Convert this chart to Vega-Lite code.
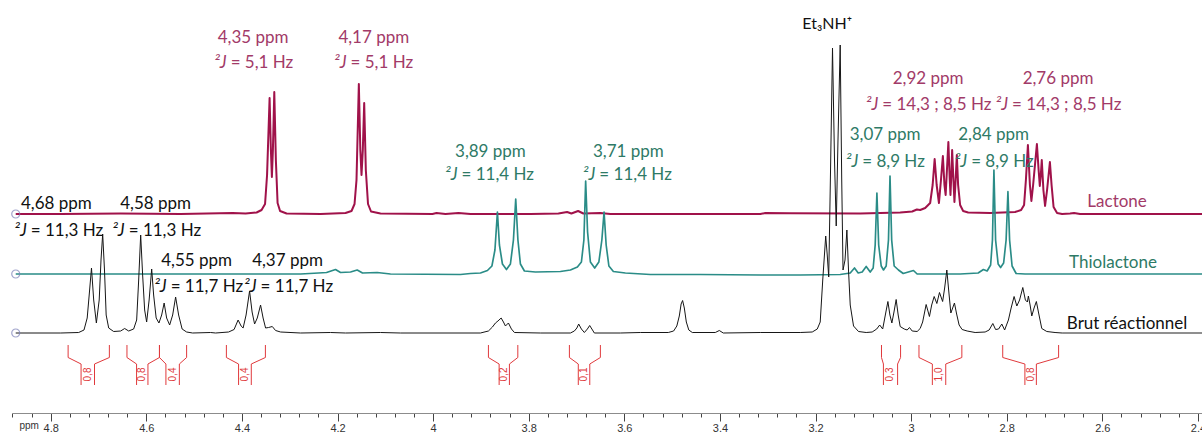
{
"$schema": "https://vega.github.io/schema/vega-lite/v6.json",
"width": 1190, "height": 413,
"autosize": {"type": "none"},
"padding": {"left": 12, "top": 0, "right": 0, "bottom": 22},
"background": "white",
"config": {"view": {"stroke": null}},
"datasets": {
"spectra": [
{"s":"Lactone","x":4.8732,"y":199},{"s":"Lactone","x":4.7791,"y":199},{"s":"Lactone","x":4.6537,"y":199.5},{"s":"Lactone","x":4.5282,"y":199},{"s":"Lactone","x":4.4195,"y":200},{"s":"Lactone","x":4.3923,"y":199.5},{"s":"Lactone","x":4.3693,"y":200.5},{"s":"Lactone","x":4.3589,"y":203},{"s":"Lactone","x":4.3516,"y":209},{"s":"Lactone","x":4.3474,"y":238},{"s":"Lactone","x":4.3421,"y":315},{"s":"Lactone","x":4.3394,"y":263},{"s":"Lactone","x":4.3373,"y":236},{"s":"Lactone","x":4.3352,"y":263},{"s":"Lactone","x":4.3323,"y":321},{"s":"Lactone","x":4.3290,"y":253},{"s":"Lactone","x":4.3254,"y":210},{"s":"Lactone","x":4.3202,"y":202},{"s":"Lactone","x":4.3066,"y":199.5},{"s":"Lactone","x":4.2355,"y":199},{"s":"Lactone","x":4.1833,"y":200},{"s":"Lactone","x":4.1707,"y":202},{"s":"Lactone","x":4.1644,"y":209},{"s":"Lactone","x":4.1603,"y":233},{"s":"Lactone","x":4.1554,"y":329},{"s":"Lactone","x":4.1523,"y":263},{"s":"Lactone","x":4.1498,"y":238},{"s":"Lactone","x":4.1471,"y":263},{"s":"Lactone","x":4.1442,"y":310},{"s":"Lactone","x":4.1408,"y":243},{"s":"Lactone","x":4.1362,"y":209},{"s":"Lactone","x":4.1299,"y":201.5},{"s":"Lactone","x":4.1101,"y":199.5},{"s":"Lactone","x":4.0014,"y":199},{"s":"Lactone","x":3.9930,"y":200},{"s":"Lactone","x":3.9742,"y":199},{"s":"Lactone","x":3.9470,"y":200},{"s":"Lactone","x":3.9219,"y":199},{"s":"Lactone","x":3.7965,"y":199},{"s":"Lactone","x":3.7379,"y":199.5},{"s":"Lactone","x":3.7197,"y":201},{"s":"Lactone","x":3.7108,"y":199.5},{"s":"Lactone","x":3.6967,"y":202},{"s":"Lactone","x":3.6857,"y":199.5},{"s":"Lactone","x":3.6501,"y":200},{"s":"Lactone","x":3.6292,"y":199},{"s":"Lactone","x":3.3156,"y":199},{"s":"Lactone","x":3.3052,"y":200},{"s":"Lactone","x":3.2529,"y":199.7},{"s":"Lactone","x":3.1065,"y":199.5},{"s":"Lactone","x":3.0229,"y":200.5},{"s":"Lactone","x":2.9978,"y":201.5},{"s":"Lactone","x":2.9880,"y":203.5},{"s":"Lactone","x":2.9811,"y":203},{"s":"Lactone","x":2.9706,"y":205},{"s":"Lactone","x":2.9602,"y":210},{"s":"Lactone","x":2.9550,"y":228},{"s":"Lactone","x":2.9508,"y":254},{"s":"Lactone","x":2.9466,"y":228},{"s":"Lactone","x":2.9418,"y":210},{"s":"Lactone","x":2.9376,"y":233},{"s":"Lactone","x":2.9336,"y":257},{"s":"Lactone","x":2.9303,"y":228},{"s":"Lactone","x":2.9278,"y":218},{"s":"Lactone","x":2.9251,"y":243},{"s":"Lactone","x":2.9221,"y":271},{"s":"Lactone","x":2.9192,"y":233},{"s":"Lactone","x":2.9177,"y":218},{"s":"Lactone","x":2.9159,"y":238},{"s":"Lactone","x":2.9142,"y":263},{"s":"Lactone","x":2.9115,"y":233},{"s":"Lactone","x":2.9094,"y":211},{"s":"Lactone","x":2.9069,"y":233},{"s":"Lactone","x":2.9044,"y":258},{"s":"Lactone","x":2.9017,"y":228},{"s":"Lactone","x":2.8975,"y":208},{"s":"Lactone","x":2.8912,"y":202},{"s":"Lactone","x":2.8807,"y":200.5},{"s":"Lactone","x":2.8348,"y":200},{"s":"Lactone","x":2.7825,"y":201},{"s":"Lactone","x":2.7699,"y":203},{"s":"Lactone","x":2.7637,"y":208},{"s":"Lactone","x":2.7599,"y":233},{"s":"Lactone","x":2.7557,"y":268},{"s":"Lactone","x":2.7515,"y":228},{"s":"Lactone","x":2.7484,"y":212},{"s":"Lactone","x":2.7448,"y":228},{"s":"Lactone","x":2.7369,"y":269},{"s":"Lactone","x":2.7333,"y":243},{"s":"Lactone","x":2.7308,"y":227},{"s":"Lactone","x":2.7287,"y":238},{"s":"Lactone","x":2.7267,"y":253},{"s":"Lactone","x":2.7233,"y":223},{"s":"Lactone","x":2.7198,"y":207},{"s":"Lactone","x":2.7156,"y":223},{"s":"Lactone","x":2.7097,"y":251},{"s":"Lactone","x":2.7062,"y":228},{"s":"Lactone","x":2.7020,"y":206},{"s":"Lactone","x":2.6947,"y":200},{"s":"Lactone","x":2.6842,"y":199},{"s":"Lactone","x":2.6675,"y":199.5},{"s":"Lactone","x":2.6591,"y":200},{"s":"Lactone","x":2.6466,"y":199},{"s":"Lactone","x":2.3915,"y":199},
{"s":"Thiolactone","x":4.8732,"y":139},{"s":"Thiolactone","x":4.6537,"y":139},{"s":"Thiolactone","x":4.4864,"y":139},{"s":"Thiolactone","x":4.2773,"y":139},{"s":"Thiolactone","x":4.2397,"y":140},{"s":"Thiolactone","x":4.2230,"y":140.5},{"s":"Thiolactone","x":4.2042,"y":143.5},{"s":"Thiolactone","x":4.1937,"y":140.5},{"s":"Thiolactone","x":4.1728,"y":141},{"s":"Thiolactone","x":4.1588,"y":143},{"s":"Thiolactone","x":4.1477,"y":140},{"s":"Thiolactone","x":4.1170,"y":140.5},{"s":"Thiolactone","x":4.0892,"y":139},{"s":"Thiolactone","x":3.9428,"y":138.5},{"s":"Thiolactone","x":3.9219,"y":139.5},{"s":"Thiolactone","x":3.9010,"y":140},{"s":"Thiolactone","x":3.8864,"y":142.5},{"s":"Thiolactone","x":3.8770,"y":147},{"s":"Thiolactone","x":3.8707,"y":163},{"s":"Thiolactone","x":3.8655,"y":201},{"s":"Thiolactone","x":3.8613,"y":168},{"s":"Thiolactone","x":3.8550,"y":149},{"s":"Thiolactone","x":3.8466,"y":143.5},{"s":"Thiolactone","x":3.8383,"y":149},{"s":"Thiolactone","x":3.8320,"y":173},{"s":"Thiolactone","x":3.8272,"y":214},{"s":"Thiolactone","x":3.8226,"y":173},{"s":"Thiolactone","x":3.8174,"y":149},{"s":"Thiolactone","x":3.8090,"y":142},{"s":"Thiolactone","x":3.7860,"y":141},{"s":"Thiolactone","x":3.7338,"y":141.5},{"s":"Thiolactone","x":3.7128,"y":143},{"s":"Thiolactone","x":3.6982,"y":146},{"s":"Thiolactone","x":3.6898,"y":151},{"s":"Thiolactone","x":3.6846,"y":173},{"s":"Thiolactone","x":3.6809,"y":232},{"s":"Thiolactone","x":3.6769,"y":181},{"s":"Thiolactone","x":3.6710,"y":151},{"s":"Thiolactone","x":3.6620,"y":145},{"s":"Thiolactone","x":3.6533,"y":151},{"s":"Thiolactone","x":3.6470,"y":173},{"s":"Thiolactone","x":3.6424,"y":201},{"s":"Thiolactone","x":3.6380,"y":168},{"s":"Thiolactone","x":3.6323,"y":147},{"s":"Thiolactone","x":3.6229,"y":141.5},{"s":"Thiolactone","x":3.5978,"y":140},{"s":"Thiolactone","x":3.5456,"y":138.5},{"s":"Thiolactone","x":3.4411,"y":138.5},{"s":"Thiolactone","x":3.3156,"y":138},{"s":"Thiolactone","x":3.2320,"y":138},{"s":"Thiolactone","x":3.1484,"y":138.5},{"s":"Thiolactone","x":3.1274,"y":140},{"s":"Thiolactone","x":3.1185,"y":145},{"s":"Thiolactone","x":3.1107,"y":140},{"s":"Thiolactone","x":3.1024,"y":141},{"s":"Thiolactone","x":3.0940,"y":146.5},{"s":"Thiolactone","x":3.0856,"y":141},{"s":"Thiolactone","x":3.0794,"y":145},{"s":"Thiolactone","x":3.0752,"y":168},{"s":"Thiolactone","x":3.0716,"y":220},{"s":"Thiolactone","x":3.0679,"y":168},{"s":"Thiolactone","x":3.0626,"y":147},{"s":"Thiolactone","x":3.0578,"y":143},{"s":"Thiolactone","x":3.0522,"y":147},{"s":"Thiolactone","x":3.0474,"y":173},{"s":"Thiolactone","x":3.0442,"y":237},{"s":"Thiolactone","x":3.0407,"y":173},{"s":"Thiolactone","x":3.0355,"y":147},{"s":"Thiolactone","x":3.0265,"y":143},{"s":"Thiolactone","x":3.0166,"y":139.5},{"s":"Thiolactone","x":2.9951,"y":142.5},{"s":"Thiolactone","x":2.9874,"y":139},{"s":"Thiolactone","x":2.9602,"y":139},{"s":"Thiolactone","x":2.8975,"y":139},{"s":"Thiolactone","x":2.8598,"y":140},{"s":"Thiolactone","x":2.8488,"y":143.5},{"s":"Thiolactone","x":2.8410,"y":142},{"s":"Thiolactone","x":2.8337,"y":148},{"s":"Thiolactone","x":2.8299,"y":173},{"s":"Thiolactone","x":2.8268,"y":243},{"s":"Thiolactone","x":2.8233,"y":173},{"s":"Thiolactone","x":2.8180,"y":149},{"s":"Thiolactone","x":2.8128,"y":145.5},{"s":"Thiolactone","x":2.8065,"y":150},{"s":"Thiolactone","x":2.8013,"y":173},{"s":"Thiolactone","x":2.7975,"y":221.3},{"s":"Thiolactone","x":2.7940,"y":173},{"s":"Thiolactone","x":2.7888,"y":147},{"s":"Thiolactone","x":2.7804,"y":139.5},{"s":"Thiolactone","x":2.7616,"y":139},{"s":"Thiolactone","x":2.3915,"y":139},
{"s":"Brut","x":4.8732,"y":80},{"s":"Brut","x":4.7791,"y":80},{"s":"Brut","x":4.7415,"y":80.5},{"s":"Brut","x":4.7304,"y":83},{"s":"Brut","x":4.7237,"y":95},{"s":"Brut","x":4.7195,"y":118},{"s":"Brut","x":4.7147,"y":145},{"s":"Brut","x":4.7101,"y":113},{"s":"Brut","x":4.7045,"y":90},{"s":"Brut","x":4.6986,"y":113},{"s":"Brut","x":4.6948,"y":153},{"s":"Brut","x":4.6913,"y":179},{"s":"Brut","x":4.6875,"y":143},{"s":"Brut","x":4.6840,"y":98},{"s":"Brut","x":4.6787,"y":85},{"s":"Brut","x":4.6683,"y":81.5},{"s":"Brut","x":4.6537,"y":82},{"s":"Brut","x":4.6453,"y":84.5},{"s":"Brut","x":4.6369,"y":82},{"s":"Brut","x":4.6265,"y":84},{"s":"Brut","x":4.6202,"y":93},{"s":"Brut","x":4.6160,"y":133},{"s":"Brut","x":4.6118,"y":178},{"s":"Brut","x":4.6077,"y":138},{"s":"Brut","x":4.6035,"y":103},{"s":"Brut","x":4.5993,"y":91},{"s":"Brut","x":4.5941,"y":113},{"s":"Brut","x":4.5888,"y":144},{"s":"Brut","x":4.5847,"y":118},{"s":"Brut","x":4.5794,"y":95},{"s":"Brut","x":4.5736,"y":90},{"s":"Brut","x":4.5679,"y":98},{"s":"Brut","x":4.5627,"y":110},{"s":"Brut","x":4.5575,"y":95},{"s":"Brut","x":4.5512,"y":88},{"s":"Brut","x":4.5449,"y":98},{"s":"Brut","x":4.5387,"y":116},{"s":"Brut","x":4.5324,"y":98},{"s":"Brut","x":4.5251,"y":84},{"s":"Brut","x":4.5157,"y":81},{"s":"Brut","x":4.5031,"y":80},{"s":"Brut","x":4.4655,"y":80.5},{"s":"Brut","x":4.4550,"y":80},{"s":"Brut","x":4.4279,"y":81},{"s":"Brut","x":4.4164,"y":83.5},{"s":"Brut","x":4.4080,"y":93},{"s":"Brut","x":4.4017,"y":87},{"s":"Brut","x":4.3975,"y":85},{"s":"Brut","x":4.3913,"y":98},{"s":"Brut","x":4.3840,"y":122},{"s":"Brut","x":4.3787,"y":101},{"s":"Brut","x":4.3735,"y":89},{"s":"Brut","x":4.3679,"y":95},{"s":"Brut","x":4.3610,"y":108},{"s":"Brut","x":4.3557,"y":95},{"s":"Brut","x":4.3505,"y":85},{"s":"Brut","x":4.3442,"y":85.5},{"s":"Brut","x":4.3365,"y":86.5},{"s":"Brut","x":4.3296,"y":82.5},{"s":"Brut","x":4.3191,"y":81},{"s":"Brut","x":4.2773,"y":80},{"s":"Brut","x":4.2146,"y":80.5},{"s":"Brut","x":4.1833,"y":80},{"s":"Brut","x":4.1101,"y":80.5},{"s":"Brut","x":4.0683,"y":80},{"s":"Brut","x":3.9010,"y":80},{"s":"Brut","x":3.8843,"y":82},{"s":"Brut","x":3.8759,"y":86},{"s":"Brut","x":3.8696,"y":90},{"s":"Brut","x":3.8644,"y":92},{"s":"Brut","x":3.8577,"y":95},{"s":"Brut","x":3.8529,"y":91},{"s":"Brut","x":3.8487,"y":87},{"s":"Brut","x":3.8425,"y":90},{"s":"Brut","x":3.8362,"y":84},{"s":"Brut","x":3.8299,"y":80.5},{"s":"Brut","x":3.7756,"y":80},{"s":"Brut","x":3.7128,"y":80},{"s":"Brut","x":3.7045,"y":82},{"s":"Brut","x":3.6993,"y":85},{"s":"Brut","x":3.6955,"y":89},{"s":"Brut","x":3.6898,"y":84},{"s":"Brut","x":3.6836,"y":80.5},{"s":"Brut","x":3.6773,"y":84},{"s":"Brut","x":3.6725,"y":87.5},{"s":"Brut","x":3.6679,"y":84},{"s":"Brut","x":3.6627,"y":80},{"s":"Brut","x":3.6083,"y":80},{"s":"Brut","x":3.5665,"y":80.5},{"s":"Brut","x":3.5080,"y":80.5},{"s":"Brut","x":3.4969,"y":82},{"s":"Brut","x":3.4902,"y":87},{"s":"Brut","x":3.4850,"y":97},{"s":"Brut","x":3.4812,"y":109},{"s":"Brut","x":3.4781,"y":112.5},{"s":"Brut","x":3.4745,"y":105},{"s":"Brut","x":3.4703,"y":91},{"s":"Brut","x":3.4651,"y":83},{"s":"Brut","x":3.4578,"y":80.5},{"s":"Brut","x":3.4097,"y":80.5},{"s":"Brut","x":3.4013,"y":82.5},{"s":"Brut","x":3.3930,"y":80},{"s":"Brut","x":3.3156,"y":80.5},{"s":"Brut","x":3.2320,"y":80.5},{"s":"Brut","x":3.2069,"y":81},{"s":"Brut","x":3.1964,"y":84},{"s":"Brut","x":3.1902,"y":91},{"s":"Brut","x":3.1849,"y":133},{"s":"Brut","x":3.1787,"y":177},{"s":"Brut","x":3.1755,"y":158},{"s":"Brut","x":3.1724,"y":136},{"s":"Brut","x":3.1686,"y":243},{"s":"Brut","x":3.1645,"y":365},{"s":"Brut","x":3.1603,"y":253},{"s":"Brut","x":3.1567,"y":187},{"s":"Brut","x":3.1530,"y":273},{"s":"Brut","x":3.1484,"y":368},{"s":"Brut","x":3.1452,"y":233},{"s":"Brut","x":3.1425,"y":143},{"s":"Brut","x":3.1383,"y":153},{"s":"Brut","x":3.1344,"y":183},{"s":"Brut","x":3.1310,"y":143},{"s":"Brut","x":3.1274,"y":108},{"s":"Brut","x":3.1205,"y":87},{"s":"Brut","x":3.1101,"y":81.5},{"s":"Brut","x":3.0940,"y":80.5},{"s":"Brut","x":3.0815,"y":81},{"s":"Brut","x":3.0720,"y":84},{"s":"Brut","x":3.0658,"y":88},{"s":"Brut","x":3.0595,"y":84},{"s":"Brut","x":3.0528,"y":101},{"s":"Brut","x":3.0486,"y":111.5},{"s":"Brut","x":3.0444,"y":98},{"s":"Brut","x":3.0403,"y":90},{"s":"Brut","x":3.0359,"y":101},{"s":"Brut","x":3.0313,"y":113.5},{"s":"Brut","x":3.0271,"y":98},{"s":"Brut","x":3.0229,"y":86.5},{"s":"Brut","x":3.0145,"y":84},{"s":"Brut","x":3.0083,"y":83},{"s":"Brut","x":3.0035,"y":85.5},{"s":"Brut","x":2.9978,"y":82},{"s":"Brut","x":2.9874,"y":81.5},{"s":"Brut","x":2.9811,"y":84.5},{"s":"Brut","x":2.9759,"y":91},{"s":"Brut","x":2.9686,"y":108.5},{"s":"Brut","x":2.9617,"y":96.5},{"s":"Brut","x":2.9570,"y":108},{"s":"Brut","x":2.9518,"y":116.5},{"s":"Brut","x":2.9462,"y":109.5},{"s":"Brut","x":2.9407,"y":120.5},{"s":"Brut","x":2.9341,"y":111.5},{"s":"Brut","x":2.9299,"y":125},{"s":"Brut","x":2.9253,"y":143},{"s":"Brut","x":2.9215,"y":123},{"s":"Brut","x":2.9169,"y":100},{"s":"Brut","x":2.9131,"y":105},{"s":"Brut","x":2.9094,"y":110},{"s":"Brut","x":2.9048,"y":99},{"s":"Brut","x":2.8996,"y":88},{"s":"Brut","x":2.8933,"y":83.5},{"s":"Brut","x":2.8828,"y":82},{"s":"Brut","x":2.8661,"y":80.5},{"s":"Brut","x":2.8452,"y":81},{"s":"Brut","x":2.8368,"y":83},{"s":"Brut","x":2.8291,"y":89.5},{"s":"Brut","x":2.8233,"y":83.5},{"s":"Brut","x":2.8170,"y":84},{"s":"Brut","x":2.8103,"y":89},{"s":"Brut","x":2.8044,"y":83},{"s":"Brut","x":2.7965,"y":93},{"s":"Brut","x":2.7908,"y":105},{"s":"Brut","x":2.7846,"y":116.5},{"s":"Brut","x":2.7789,"y":107},{"s":"Brut","x":2.7731,"y":113},{"s":"Brut","x":2.7664,"y":125.5},{"s":"Brut","x":2.7610,"y":113},{"s":"Brut","x":2.7568,"y":111},{"s":"Brut","x":2.7547,"y":117},{"s":"Brut","x":2.7511,"y":108},{"s":"Brut","x":2.7476,"y":97},{"s":"Brut","x":2.7428,"y":105},{"s":"Brut","x":2.7380,"y":111.5},{"s":"Brut","x":2.7333,"y":100},{"s":"Brut","x":2.7267,"y":84.5},{"s":"Brut","x":2.7162,"y":81.5},{"s":"Brut","x":2.6989,"y":80.5},{"s":"Brut","x":2.6842,"y":80},
{"s":"Brut2","x":2.6842,"y":80},{"s":"Brut2","x":2.3915,"y":80}
],
"origins": [{"x":4.8732,"y":199},{"x":4.8732,"y":139},{"x":4.8732,"y":80}],
"integrals": [
{"p":"1L","o":0,"x":4.7365,"y":28},{"p":"1L","o":1,"x":4.7365,"y":49},{"p":"1L","o":2,"x":4.7636,"y":55.5},{"p":"1L","o":3,"x":4.7636,"y":68},
{"p":"1R","o":0,"x":4.7084,"y":28},{"p":"1R","o":1,"x":4.7084,"y":49},{"p":"1R","o":2,"x":4.6773,"y":55.5},{"p":"1R","o":3,"x":4.6773,"y":68},
{"p":"2L","o":0,"x":4.6204,"y":28},{"p":"2L","o":1,"x":4.6204,"y":49},{"p":"2L","o":2,"x":4.6405,"y":55.5},{"p":"2L","o":3,"x":4.6405,"y":68},
{"p":"2R","o":0,"x":4.5966,"y":28},{"p":"2R","o":1,"x":4.5966,"y":49},{"p":"2R","o":2,"x":4.5725,"y":55.5},{"p":"2R","o":3,"x":4.5725,"y":68},
{"p":"3L","o":0,"x":4.5590,"y":28},{"p":"3L","o":1,"x":4.5590,"y":49},{"p":"3L","o":2,"x":4.5725,"y":55.5},{"p":"3L","o":3,"x":4.5725,"y":68},
{"p":"3R","o":0,"x":4.5309,"y":28},{"p":"3R","o":1,"x":4.5309,"y":49},{"p":"3R","o":2,"x":4.5157,"y":55.5},{"p":"3R","o":3,"x":4.5157,"y":68},
{"p":"4L","o":0,"x":4.4070,"y":28},{"p":"4L","o":1,"x":4.4070,"y":49},{"p":"4L","o":2,"x":4.4325,"y":55.5},{"p":"4L","o":3,"x":4.4325,"y":68},
{"p":"4R","o":0,"x":4.3804,"y":28},{"p":"4R","o":1,"x":4.3804,"y":49},{"p":"4R","o":2,"x":4.3509,"y":55.5},{"p":"4R","o":3,"x":4.3509,"y":68},
{"p":"5L","o":0,"x":3.8619,"y":28},{"p":"5L","o":1,"x":3.8619,"y":49},{"p":"5L","o":2,"x":3.8843,"y":55.5},{"p":"5L","o":3,"x":3.8843,"y":68},
{"p":"5R","o":0,"x":3.8404,"y":28},{"p":"5R","o":1,"x":3.8404,"y":49},{"p":"5R","o":2,"x":3.8228,"y":55.5},{"p":"5R","o":3,"x":3.8228,"y":68},
{"p":"6L","o":0,"x":3.6963,"y":28},{"p":"6L","o":1,"x":3.6963,"y":49},{"p":"6L","o":2,"x":3.7149,"y":55.5},{"p":"6L","o":3,"x":3.7149,"y":68},
{"p":"6R","o":0,"x":3.6723,"y":28},{"p":"6R","o":1,"x":3.6723,"y":49},{"p":"6R","o":2,"x":3.6501,"y":55.5},{"p":"6R","o":3,"x":3.6501,"y":68},
{"p":"7L","o":0,"x":3.0580,"y":28},{"p":"7L","o":1,"x":3.0580,"y":49},{"p":"7L","o":2,"x":3.0620,"y":55.5},{"p":"7L","o":3,"x":3.0620,"y":68},
{"p":"7R","o":0,"x":3.0283,"y":28},{"p":"7R","o":1,"x":3.0283,"y":49},{"p":"7R","o":2,"x":3.0221,"y":55.5},{"p":"7R","o":3,"x":3.0221,"y":68},
{"p":"8L","o":0,"x":2.9556,"y":28},{"p":"8L","o":1,"x":2.9556,"y":49},{"p":"8L","o":2,"x":2.9836,"y":55.5},{"p":"8L","o":3,"x":2.9836,"y":68},
{"p":"8R","o":0,"x":2.9276,"y":28},{"p":"8R","o":1,"x":2.9276,"y":49},{"p":"8R","o":2,"x":2.8939,"y":55.5},{"p":"8R","o":3,"x":2.8939,"y":68},
{"p":"9L","o":0,"x":2.7620,"y":28},{"p":"9L","o":1,"x":2.7620,"y":49},{"p":"9L","o":2,"x":2.8084,"y":55.5},{"p":"9L","o":3,"x":2.8084,"y":68},
{"p":"9R","o":0,"x":2.7380,"y":28},{"p":"9R","o":1,"x":2.7380,"y":49},{"p":"9R","o":2,"x":2.6915,"y":55.5},{"p":"9R","o":3,"x":2.6915,"y":68}
],
"integralLabels": [
{"x":4.7224,"y":38.5,"t":"0,8"},{"x":4.6085,"y":38.5,"t":"0,8"},{"x":4.5449,"y":38.5,"t":"0,4"},{"x":4.3938,"y":38.5,"t":"0,4"},{"x":3.8512,"y":38.5,"t":"0,2"},{"x":3.6844,"y":38.5,"t":"0,1"},{"x":3.0432,"y":38.5,"t":"0,3"},{"x":2.9416,"y":38.5,"t":"1,0"},{"x":2.7501,"y":38.5,"t":"0,8"}
],
"labels": [
{"x":4.3766,"y":375,"t":"4,35 ppm","g":"L"},{"x":4.1241,"y":375,"t":"4,17 ppm","g":"L"},{"x":2.9644,"y":334,"t":"2,92 ppm","g":"L"},{"x":2.6926,"y":334,"t":"2,76 ppm","g":"L"},
{"x":3.8801,"y":261,"t":"3,89 ppm","g":"T"},{"x":3.5916,"y":261,"t":"3,71 ppm","g":"T"},{"x":3.0543,"y":277.7,"t":"3,07 ppm","g":"T"},{"x":2.8274,"y":277.7,"t":"2,84 ppm","g":"T"},
{"x":4.7881,"y":209,"t":"4,68 ppm","g":"B"},{"x":4.5805,"y":209,"t":"4,58 ppm","g":"B"},{"x":4.4948,"y":152.3,"t":"4,55 ppm","g":"B"},{"x":4.3045,"y":152.3,"t":"4,37 ppm","g":"B"},
{"x":2.5692,"y":210.7,"t":"Lactone","g":"L"},{"x":2.5776,"y":150.3,"t":"Thiolactone","g":"T"},{"x":2.5483,"y":89,"t":"Brut réactionnel","g":"B"}
],
"jlabels": [
{"x":4.4320,"y":350,"r":"= 5,1 Hz","g":"L"},{"x":4.1812,"y":350,"r":"= 5,1 Hz","g":"L"},{"x":3.0689,"y":308,"r":"= 14,3 ; 8,5 Hz","g":"L"},{"x":2.7971,"y":308,"r":"= 14,3 ; 8,5 Hz","g":"L"},
{"x":3.9491,"y":238,"r":"= 11,4 Hz","g":"T"},{"x":3.6606,"y":238,"r":"= 11,4 Hz","g":"T"},{"x":3.1107,"y":251.3,"r":"= 8,9 Hz","g":"T"},{"x":2.8828,"y":251.3,"r":"= 8,9 Hz","g":"T"},
{"x":4.8502,"y":182,"r":"= 11,3 Hz","g":"B"},{"x":4.6453,"y":182,"r":"= 11,3 Hz","g":"B"},{"x":4.5575,"y":126.3,"r":"= 11,7 Hz","g":"B"},{"x":4.3693,"y":126.3,"r":"= 11,7 Hz","g":"B"}
],
"other": [{"x":3.1755,"y":389,"t":"Et₃NH⁺"}]
},
"encoding": {
"x": {"field":"x","type":"quantitative",
 "scale": {"domain":[2.3915,4.881],"reverse":true,"nice":false,"zero":false},
 "axis": {
  "values":[4.88,4.84,4.8,4.76,4.72,4.68,4.64,4.6,4.56,4.52,4.48,4.44,4.4,4.36,4.32,4.28,4.24,4.2,4.16,4.12,4.08,4.04,4,3.96,3.92,3.88,3.84,3.8,3.76,3.72,3.68,3.64,3.6,3.56,3.52,3.48,3.44,3.4,3.36,3.32,3.28,3.24,3.2,3.16,3.12,3.08,3.04,3,2.96,2.92,2.88,2.84,2.8,2.76,2.72,2.68,2.64,2.6,2.56,2.52,2.48,2.44,2.4],
  "format":"~g",
  "labelExpr":"abs(datum.value*5 - round(datum.value*5)) < 0.01 ? datum.label : ''",
  "tickSize":{"condition":{"test":"abs(datum.value*5 - round(datum.value*5)) < 0.01","value":8},"value":4},
  "grid":false,"labelOverlap":false,"labelFlush":false,"labelBound":false,
  "domainColor":"#8c8c8c","domainWidth":1,"tickColor":"#444444","tickWidth":1,
  "labelColor":"#333333","labelFont":"Liberation Sans","labelFontSize":11,"labelPadding":1,
  "title":"ppm","titleFont":"Liberation Sans","titleFontSize":10,"titleFontWeight":"normal","titleColor":"#333333",
  "titleAnchor":"start","titleAlign":"left","titleBaseline":"middle","titleX":7,"titleY":12
 }},
"y": {"field":"y","type":"quantitative","scale":{"domain":[0,413],"nice":false,"zero":false},"axis":null}
},
"layer": [
{"data":{"name":"integrals"},"mark":{"type":"line","color":"#e0393c","strokeWidth":1},
 "encoding":{"detail":{"field":"p","type":"nominal"},"order":{"field":"o","type":"quantitative"}}},
{"data":{"name":"integralLabels"},"mark":{"type":"text","angle":270,"font":"Liberation Sans","fontSize":10,"fill":"#e0393c","align":"center","baseline":"middle"},
 "encoding":{"text":{"field":"t","type":"nominal"}}},
{"data":{"name":"spectra"},"mark":{"type":"line","strokeJoin":"round"},
 "encoding":{
  "stroke":{"field":"s","type":"nominal","scale":{"domain":["Brut","Brut2","Thiolactone","Lactone"],"range":["#161616","#6a6a6a","#2a8c87","#a0124a"]},"legend":null},
  "strokeWidth":{"field":"s","type":"nominal","scale":{"domain":["Brut","Brut2","Thiolactone","Lactone"],"range":[1,2,1,1.1]},"legend":null}}},
{"data":{"name":"origins"},"mark":{"type":"point","shape":"circle","size":64,"filled":false,"stroke":"#7c80b8","strokeWidth":1.2}},
{"data":{"name":"labels"},"mark":{"type":"text","font":"Lato","fontSize":17,"align":"center","baseline":"middle"},
 "encoding":{"text":{"field":"t","type":"nominal"},
  "fill":{"field":"g","type":"nominal","scale":{"domain":["L","T","B"],"range":["#a23a68","#2e7a66","#111111"]},"legend":null}}},
{"data":{"name":"jlabels"},"mark":{"type":"text","font":"Lato","fontSize":17,"fontStyle":"italic","align":"right","baseline":"middle"},
 "encoding":{"text":{"value":"²J"},
  "fill":{"field":"g","type":"nominal","scale":{"domain":["L","T","B"],"range":["#a23a68","#2e7a66","#111111"]},"legend":null}}},
{"data":{"name":"jlabels"},"mark":{"type":"text","font":"Lato","fontSize":17,"align":"left","baseline":"middle","dx":4},
 "encoding":{"text":{"field":"r","type":"nominal"},
  "fill":{"field":"g","type":"nominal","scale":{"domain":["L","T","B"],"range":["#a23a68","#2e7a66","#111111"]},"legend":null}}},
{"data":{"name":"other"},"mark":{"type":"text","font":"Lato","fontSize":16,"align":"center","baseline":"middle","fill":"#111111"},
 "encoding":{"text":{"field":"t","type":"nominal"}}}
]
}
